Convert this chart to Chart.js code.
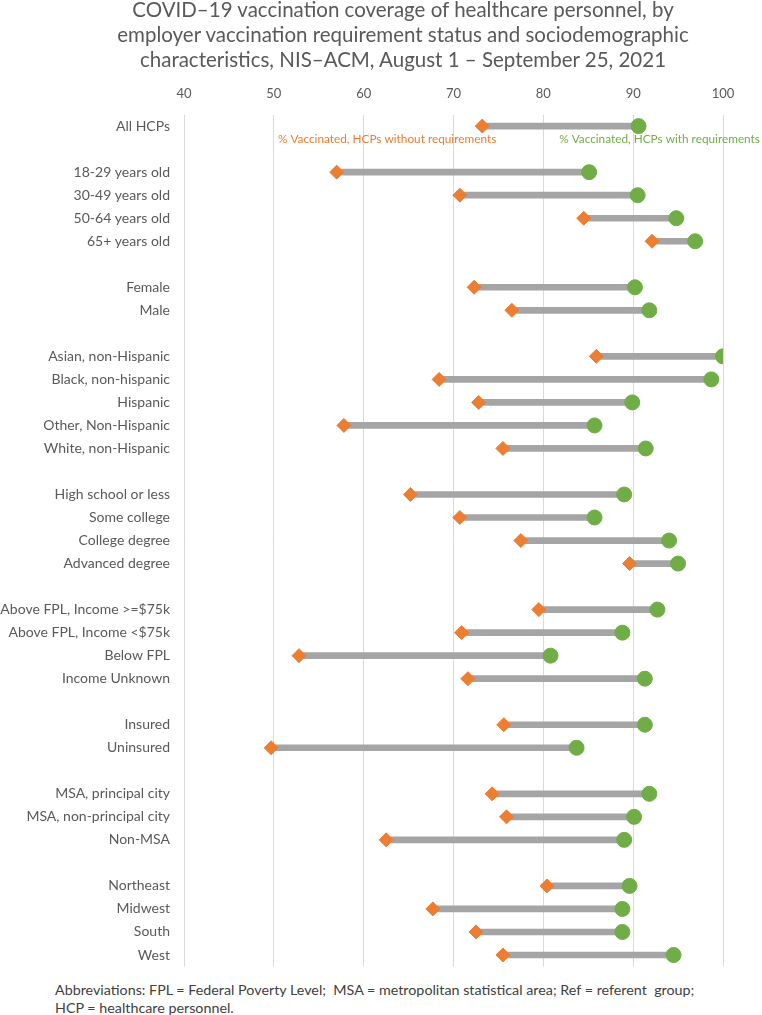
<!DOCTYPE html>
<html>
<head>
<meta charset="utf-8">
<script src="https://cdn.jsdelivr.net/npm/chart.js@4.4.1/dist/chart.umd.min.js"></script>
<style>
    body { margin: 0; background: #fff; }
    #wrap { position: relative; width: 762px; height: 975px; }
    #title {
        position: absolute; left: 0; top: -3px; width: 806px; text-align: center;
        font-family: Lato, 'Open Sans', sans-serif; font-size: 20.5px;
        line-height: 25px; color: #595959; white-space: pre;
    }
    #note {
        position: absolute; left: 55px; top: 981px;
        font-family: Lato, 'Open Sans', sans-serif; font-size: 14.3px;
        line-height: 18px; color: #404040; white-space: pre;
    }
</style>
</head>
<body>
<div id="wrap"><canvas id="vaxChart"></canvas></div>
<div id="title">COVID–19 vaccination coverage of healthcare personnel, by
employer vaccination requirement status and sociodemographic
characteristics, NIS–ACM, August 1 – September 25, 2021</div>
<div id="note">Abbreviations: FPL = Federal Poverty Level;  MSA = metropolitan statistical area; Ref = referent  group;
HCP = healthcare personnel.</div>
<script>
var categories = [
    'All HCPs', '',
    '18-29 years old', '30-49 years old', '50-64 years old', '65+ years old', '',
    'Female', 'Male', '',
    'Asian, non-Hispanic', 'Black, non-hispanic', 'Hispanic', 'Other, Non-Hispanic', 'White, non-Hispanic', '',
    'High school or less', 'Some college', 'College degree', 'Advanced degree', '',
    'Above FPL, Income >=$75k', 'Above FPL, Income <$75k', 'Below FPL', 'Income Unknown', '',
    'Insured', 'Uninsured', '',
    'MSA, principal city', 'MSA, non-principal city', 'Non-MSA', '',
    'Northeast', 'Midwest', 'South', 'West'
];
// % vaccinated, HCPs without employer requirements
var withoutReq = [
    73.2, null,
    57.0, 70.7, 84.5, 92.1, null,
    72.3, 76.5, null,
    85.9, 68.4, 72.8, 57.8, 75.5, null,
    65.2, 70.7, 77.5, 89.6, null,
    79.5, 70.9, 52.8, 71.6, null,
    75.6, 49.7, null,
    74.3, 75.9, 62.5, null,
    80.4, 67.7, 72.5, 75.5
];
// % vaccinated, HCPs with employer requirements
var withReq = [
    90.6, null,
    85.1, 90.5, 94.8, 96.9, null,
    90.2, 91.8, null,
    100.0, 98.7, 89.9, 85.7, 91.4, null,
    89.0, 85.7, 94.0, 95.0, null,
    92.7, 88.8, 80.8, 91.3, null,
    91.3, 83.7, null,
    91.8, 90.1, 89.0, null,
    89.6, 88.8, 88.8, 94.5
];
var tickValues = [40, 50, 60, 70, 80, 90, 100];

var ranges = categories.map(function (c, i) {
    return withoutReq[i] === null ? null : [withoutReq[i], withReq[i]];
});

var fontFamily = "Lato, 'Open Sans', sans-serif";

// small text labels under the first row, like the Excel data labels
var seriesLabels = {
    id: 'seriesLabels',
    afterDatasetsDraw: function (chart) {
        var ctx = chart.ctx;
        var p0 = chart.getDatasetMeta(1).data[0];
        var p1 = chart.getDatasetMeta(2).data[0];
        ctx.save();
        ctx.font = '11.8px ' + fontFamily;
        ctx.textBaseline = 'middle';
        ctx.fillStyle = '#ED7D31';
        ctx.textAlign = 'right';
        ctx.fillText('% Vaccinated, HCPs without requirements', p0.x + 14, p0.y + 13);
        ctx.fillStyle = '#70AD47';
        ctx.textAlign = 'center';
        ctx.fillText('% Vaccinated, HCPs with requirements', p1.x + 21, p1.y + 13);
        ctx.restore();
    }
};

var ctx = document.getElementById('vaxChart').getContext('2d');
new Chart(ctx, {
    type: 'bar',
    data: {
        labels: categories,
        datasets: [{
            type: 'bar',
            indexAxis: 'y',
            data: ranges,
            backgroundColor: '#A5A5A5',
            barThickness: 6,
            order: 3
        }, {
            type: 'line',
            indexAxis: 'y',
            label: '% Vaccinated, HCPs without requirements',
            data: withoutReq,
            showLine: false,
            pointStyle: 'rectRot',
            pointRadius: 7,
            pointBackgroundColor: '#ED7D31',
            pointBorderColor: '#ED7D31',
            order: 2
        }, {
            type: 'line',
            indexAxis: 'y',
            label: '% Vaccinated, HCPs with requirements',
            data: withReq,
            showLine: false,
            pointStyle: 'circle',
            pointRadius: 7.5,
            pointBackgroundColor: '#70AD47',
            pointBorderColor: '#70AD47',
            order: 1
        }]
    },
    options: {
        indexAxis: 'y',
        responsive: true,
        maintainAspectRatio: false,
        animation: false,
        layout: { padding: { left: 0, right: 39, top: 73, bottom: 2 } },
        plugins: {
            legend: { display: false },
            tooltip: { enabled: false },
            title: { display: false }
        },
        scales: {
            x: {
                type: 'linear',
                position: 'top',
                min: 40,
                max: 100,
                afterBuildTicks: function (scale) {
                    scale.ticks = tickValues.map(function (v) { return { value: v }; });
                },
                grid: { color: '#D9D9D9', drawTicks: false },
                border: { display: false },
                ticks: {
                    color: '#595959',
                    padding: 13,
                    font: { family: fontFamily, size: 13 }
                }
            },
            y: {
                type: 'category',
                grid: { display: false, drawTicks: false },
                border: { display: false },
                afterFit: function (scale) {
                    scale.width = 184;
                    scale.paddingTop = 0;
                    scale.paddingBottom = 0;
                },
                ticks: {
                    color: '#595959',
                    padding: 14,
                    autoSkip: false,
                    font: { family: fontFamily, size: 14 }
                }
            }
        }
    },
    plugins: [seriesLabels]
});
</script>
</body>
</html>
